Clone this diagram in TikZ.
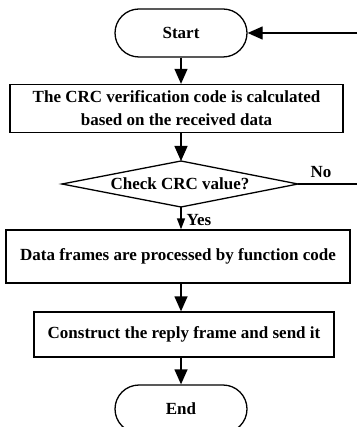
\documentclass[tikz,border=0pt]{standalone}
\usepackage{fontspec}
\setmainfont{Liberation Serif}
\usetikzlibrary{arrows.meta,shapes.misc}
\begin{document}
\begin{tikzpicture}[x=1pt,y=-1pt,line width=1.3pt,
  every node/.style={font=\fontsize{17}{23}\selectfont\bfseries,inner sep=0pt},
  term/.style={draw,rounded rectangle,minimum width=132pt,minimum height=48pt},
  proc/.style={draw,rectangle,align=center},
  lbl/.style={font=\fontsize{17}{20}\selectfont\bfseries},
  arr/.style={-{Triangle[length=15pt,width=13pt]}},
  arrs/.style={-{Triangle[length=11pt,width=8pt]}}]
\useasboundingbox (0,0) rectangle (357,427);
\clip (0,0) rectangle (357,427);
\node[term] (start) at (181,33) {Start};
\node[proc,minimum width=333pt,minimum height=48pt] (b1) at (176.5,108.5)
  {The CRC verification code is calculated\\based on the received data};
\node (dec) at (180,184) {Check CRC value?};
\coordinate (dl) at (62,184);
\coordinate (dr) at (298,184);
\coordinate (dt) at (181,161);
\coordinate (db) at (181,207);
\draw (dl) -- (dt) -- (dr) -- (db) -- cycle;
\node[proc,minimum width=344pt,minimum height=53pt] (b2) at (178,256.5)
  {Data frames are processed by function code};
\node[proc,minimum width=300pt,minimum height=45pt] (b3) at (184,334.5)
  {Construct the reply frame and send it};
\node[term] (end) at (181,409) {End};
\coordinate (noend) at (357,184);
\coordinate (back) at (357,33);
\node[lbl,anchor=west] (no) at (310,172) {No};
\node[lbl,anchor=west] (yes) at (186,220) {Yes};
\draw[arr] (start.south) -- (start.south |- b1.north);
\draw[arr] (start.south |- b1.south) -- (dt);
\draw[arrs] (db) -- (db |- b2.north);
\draw[arr] (start.south |- b2.south) -- (start.south |- b3.north);
\draw[arr] (start.south |- b3.south) -- (end.north);
\draw (dr) -- (noend);
\draw[arr] (back) -- (start.east);
\end{tikzpicture}
\end{document}
